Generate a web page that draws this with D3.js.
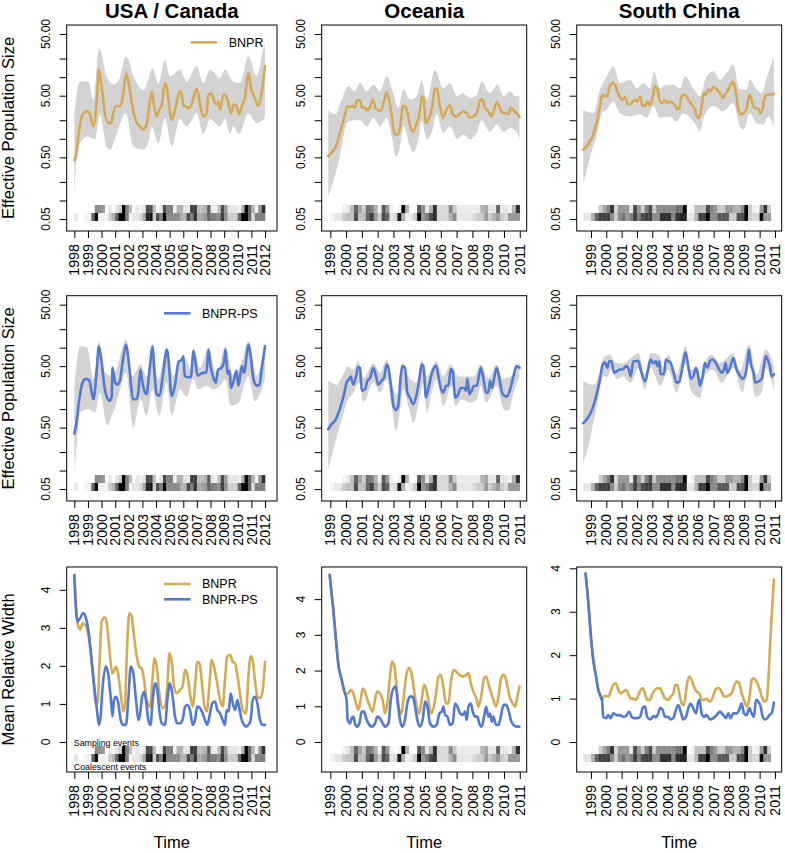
<!DOCTYPE html>
<html><head><meta charset="utf-8">
<script src="https://cdn.jsdelivr.net/npm/d3@7"></script>
<style>body{margin:0;background:#fff}</style>
</head><body>
<svg id="chart" width="785" height="853"></svg>
<script>
// ---------------- DATA ----------------
const titles = ["USA / Canada", "Oceania", "South China"];
const yearTicks = [
  [1998,1999,2000,2001,2002,2003,2004,2005,2006,2007,2008,2009,2010,2011,2012],
  [1999,2000,2001,2002,2003,2004,2005,2006,2007,2008,2009,2010,2011],
  [1999,2000,2001,2002,2003,2004,2005,2006,2007,2008,2009,2010,2011]
];
const logTicks = [50,20,10,5,2,1,0.5,0.2,0.1,0.05];
const logTickLabels = {50:"50.00",5:"5.00",0.5:"0.50",0.05:"0.05"};
const widthTicks = [0,1,2,3,4];

// USA / Canada — BNPR
const usaBnpr = [[1998.0,0.45],[1998.1,0.52],[1998.4,1.6],[1998.6,2.46],[1998.9,2.8],[1999.0,2.8],[1999.15,2.5],[1999.4,1.6],[1999.65,4.3],[1999.8,13.2],[2000.0,7],[2000.25,2.6],[2000.5,1.8],[2000.7,1.8],[2000.85,2.6],[2001.1,3.4],[2001.35,3.4],[2001.6,5.5],[2001.8,11.4],[2002.05,6.7],[2002.3,3.0],[2002.6,1.8],[2002.8,1.6],[2003.05,1.4],[2003.3,1.7],[2003.5,3.4],[2003.7,5.9],[2003.85,3.4],[2004.05,2.3],[2004.25,3.0],[2004.4,3.4],[2004.65,8.0],[2004.8,6.7],[2005.0,3.0],[2005.15,2.0],[2005.4,3.0],[2005.65,5.2],[2005.75,5.9],[2005.9,5.2],[2006.0,3.4],[2006.2,3.4],[2006.35,3.1],[2006.55,3.4],[2006.75,4.6],[2006.95,6.4],[2007.05,5.9],[2007.25,3.4],[2007.5,2.3],[2007.7,2.5],[2007.85,5.2],[2008.05,5.4],[2008.2,4.6],[2008.4,3.6],[2008.55,4.0],[2008.7,3.0],[2008.95,5.2],[2009.15,4.9],[2009.3,3.8],[2009.5,2.6],[2009.7,3.6],[2009.9,3.4],[2010.1,2.5],[2010.3,3.4],[2010.5,4.3],[2010.8,11.7],[2010.95,7.0],[2011.15,5.2],[2011.4,3.8],[2011.5,3.4],[2011.75,5.5],[2012.0,15]];
const usaBnprUpper = [[1998.0,2.6],[1998.42,8.5],[1999.03,8.5],[1999.4,4.3],[1999.81,29.6],[2000.37,10.3],[2000.86,7.6],[2001.23,8.5],[2001.79,21.7],[2002.45,9.1],[2003.07,6.2],[2003.43,9.1],[2003.73,14],[2004.17,8],[2004.66,19],[2005.02,10.3],[2005.76,13.2],[2006.25,8.5],[2006.98,15],[2007.47,8],[2007.96,13.2],[2008.7,9.7],[2009.06,13.2],[2009.67,8.5],[2010.16,8],[2010.78,21.7],[2011.39,10.3],[2011.93,31.7],[2012.0,35]];
const usaBnprLower = [[1998.0,0.103],[1998.05,0.2],[1998.42,0.85],[1999.03,1.1],[1999.52,0.97],[1999.88,2.5],[2000.37,0.75],[2000.62,0.67],[2001.1,1.2],[2001.79,2.6],[2002.33,0.75],[2003.07,0.67],[2003.48,0.97],[2003.68,1.6],[2004.17,0.85],[2004.66,2.2],[2005.15,0.75],[2005.76,2.1],[2006.25,1.6],[2006.98,2.6],[2007.47,1.2],[2007.96,2.1],[2008.7,1.6],[2009.06,2.1],[2009.43,1.2],[2009.67,1.6],[2010.09,1.2],[2010.78,2.6],[2011.39,1.8],[2011.93,2.1],[2012.0,2.5]];
// USA / Canada — BNPR-PS
const usaPs = [[1998.0,0.40],[1998.1,0.5],[1998.4,1.64],[1998.6,2.7],[1998.85,3.1],[1999.1,2.9],[1999.4,1.45],[1999.65,4.4],[1999.8,10.5],[2000.0,5.9],[2000.2,2.4],[2000.4,1.54],[2000.6,1.36],[2000.75,1.64],[2000.8,4.7],[2001.0,2.7],[2001.15,2.5],[2001.35,2.9],[2001.55,5.9],[2001.8,11.2],[2001.95,7.2],[2002.15,2.7],[2002.3,1.45],[2002.55,1.45],[2002.7,1.9],[2002.85,4.4],[2003.0,2.7],[2003.2,1.85],[2003.3,1.75],[2003.5,3.9],[2003.75,10.5],[2003.85,5.0],[2004.05,1.75],[2004.25,1.64],[2004.5,3.5],[2004.8,9.3],[2004.9,6.8],[2005.15,1.64],[2005.4,2.5],[2005.65,5.9],[2005.9,6.4],[2006.0,7.2],[2006.1,3.5],[2006.35,3.3],[2006.55,3.3],[2006.75,8.7],[2006.85,6.8],[2007.05,3.5],[2007.25,3.7],[2007.5,3.9],[2007.7,3.9],[2007.85,9.3],[2008.0,5.0],[2008.2,3.3],[2008.4,2.7],[2008.55,4.4],[2008.8,4.7],[2009.0,5.9],[2009.1,9.3],[2009.25,3.7],[2009.4,4.2],[2009.5,2.2],[2009.7,2.9],[2009.9,4.2],[2010.05,2.4],[2010.3,5.0],[2010.45,3.9],[2010.8,11.2],[2010.95,7.2],[2011.15,3.1],[2011.4,2.4],[2011.6,2.5],[2011.75,4.4],[2012.0,10.5]];
const usaPsUpper = [[1998.0,2.4],[1998.42,10.5],[1998.95,10],[1999.4,3.1],[1999.81,12.7],[2000.13,4.4],[2000.62,3.5],[2000.99,3.9],[2001.79,13.5],[2002.28,3.5],[2002.87,5.3],[2003.31,3.3],[2003.73,11.2],[2004.17,3.1],[2004.78,10],[2005.27,3.5],[2006.0,7.7],[2006.55,4.4],[2006.74,10],[2007.23,4.7],[2007.84,10],[2008.45,3.7],[2009.09,10.5],[2009.67,3.5],[2010.29,5.9],[2010.78,12.7],[2011.39,3.5],[2012.0,12.7]];
const usaPsLower = [[1998.0,0.095],[1998.17,0.257],[1998.42,0.88],[1999.03,1.0],[1999.52,0.88],[1999.88,1.85],[2000.42,0.54],[2000.74,0.78],[2001.1,1.26],[2001.79,3.9],[2002.33,0.5],[2002.87,1.45],[2003.31,0.78],[2003.73,2.1],[2004.24,0.78],[2004.78,2.7],[2005.15,0.78],[2005.76,2.1],[2006.25,1.6],[2006.74,3.1],[2007.1,2.1],[2007.72,2.4],[2008.21,2.1],[2008.7,2.4],[2009.09,3.1],[2009.48,1.14],[2010.04,1.26],[2010.78,3.5],[2011.26,1.35],[2012.0,3.1]];

// Oceania — BNPR
const ocBnpr = [[1998.87,0.52],[1999.08,0.6],[1999.3,0.7],[1999.5,0.97],[1999.7,1.5],[1999.93,2.5],[2000.08,3.4],[2000.25,3.3],[2000.4,3.4],[2000.55,3.2],[2000.7,4.2],[2000.9,4.2],[2001.0,3.2],[2001.2,3.2],[2001.35,2.9],[2001.5,3.2],[2001.7,4.3],[2001.85,3.2],[2002.05,2.9],[2002.2,2.8],[2002.4,4.1],[2002.57,5.6],[2002.72,4.3],[2002.9,2.3],[2003.05,1.25],[2003.25,1.16],[2003.4,1.4],[2003.6,3.4],[2003.73,3.4],[2003.9,2.6],[2004.05,1.6],[2004.25,1.3],[2004.47,1.8],[2004.65,2.5],[2004.8,4.9],[2004.9,4.6],[2005.06,1.8],[2005.2,2.0],[2005.42,2.9],[2005.63,6.6],[2005.74,6.4],[2005.95,3.4],[2006.16,2.2],[2006.37,3.0],[2006.58,3.5],[2006.75,2.5],[2006.97,2.3],[2007.18,2.5],[2007.43,2.8],[2007.64,2.6],[2007.85,2.2],[2008.06,2.3],[2008.28,2.6],[2008.5,4.3],[2008.6,4.4],[2008.8,3.2],[2009.0,2.8],[2009.2,2.3],[2009.37,2.9],[2009.54,3.9],[2009.7,3.4],[2009.86,2.7],[2010.07,2.6],[2010.28,2.5],[2010.43,3.2],[2010.6,2.9],[2010.8,2.6],[2010.98,2.25]];
const ocBnprUpper = [[1998.87,2.9],[1999.3,2.5],[1999.72,4.3],[2000.14,7.1],[2000.56,5.9],[2000.88,8.0],[2001.3,5.9],[2001.73,7.5],[2002.15,5.9],[2002.57,10.3],[2002.99,5.5],[2003.31,3.2],[2003.63,6.3],[2004.05,4.3],[2004.47,4.9],[2004.79,9.1],[2005.11,4.3],[2005.63,13.2],[2006.16,6.6],[2006.59,8],[2007.01,4.9],[2007.43,5.5],[2007.85,4.6],[2008.28,5.2],[2008.59,8.5],[2009.12,5.5],[2009.59,7.5],[2009.97,4.9],[2010.39,5.9],[2010.71,4.9],[2010.98,4.9]];
const ocBnprLower = [[1998.87,0.117],[1999.08,0.17],[1999.4,0.315],[1999.72,0.75],[2000.04,1.8],[2000.46,2.0],[2000.88,2.0],[2001.3,1.6],[2001.73,2.2],[2002.15,1.6],[2002.57,2.2],[2002.89,1.1],[2003.16,0.52],[2003.42,0.75],[2003.63,1.6],[2004.05,0.75],[2004.26,0.6],[2004.58,0.97],[2004.79,2.0],[2005.11,0.97],[2005.42,1.25],[2005.74,2.5],[2006.16,1.25],[2006.59,1.6],[2007.01,1.0],[2007.43,1.16],[2007.85,0.97],[2008.28,1.25],[2008.59,2.0],[2009.12,1.3],[2009.54,1.7],[2009.97,1.3],[2010.39,1.5],[2010.81,1.3],[2010.98,0.97]];
// Oceania — BNPR-PS
const ocPs = [[1998.87,0.47],[1999.08,0.57],[1999.3,0.65],[1999.6,1.0],[1999.87,1.75],[2000.03,2.7],[2000.2,3.1],[2000.29,3.4],[2000.46,2.5],[2000.63,3.4],[2000.77,4.9],[2000.88,4.7],[2000.99,2.0],[2001.2,2.1],[2001.35,2.9],[2001.51,3.2],[2001.73,4.7],[2001.9,3.4],[2002.04,2.5],[2002.25,2.9],[2002.4,3.2],[2002.57,5.3],[2002.68,4.7],[2002.82,2.7],[2003.0,1.13],[2003.16,0.97],[2003.3,1.13],[2003.46,3.4],[2003.56,5.0],[2003.73,4.7],[2003.88,1.85],[2004.05,1.53],[2004.26,1.2],[2004.47,1.74],[2004.64,3.1],[2004.79,5.3],[2004.9,5.0],[2005.06,1.53],[2005.2,2.1],[2005.42,3.7],[2005.7,5.1],[2005.85,3.4],[2006.0,2.2],[2006.16,1.85],[2006.33,2.4],[2006.48,2.4],[2006.63,4.5],[2006.75,4.1],[2006.92,1.53],[2007.1,1.74],[2007.26,2.2],[2007.47,2.2],[2007.6,2.0],[2007.68,3.1],[2007.81,1.74],[2007.96,2.0],[2008.1,2.4],[2008.28,2.4],[2008.38,3.1],[2008.53,4.7],[2008.7,3.1],[2008.87,1.85],[2009.0,1.85],[2009.12,2.9],[2009.23,2.2],[2009.37,3.1],[2009.54,4.7],[2009.7,3.2],[2009.92,1.74],[2010.18,1.6],[2010.39,2.1],[2010.6,3.4],[2010.8,5.0],[2010.98,4.7]];
const ocPsUpper = [[1998.87,2.9],[1999.4,2.5],[1999.82,3.7],[2000.08,5.0],[2000.46,4.4],[2000.77,6.0],[2001.09,3.2],[2001.73,5.6],[2002.15,3.9],[2002.57,6.4],[2002.99,2.1],[2003.31,1.74],[2003.56,5.6],[2004.05,3.1],[2004.47,2.7],[2004.79,6.4],[2005.11,3.4],[2005.7,6.0],[2006.16,3.4],[2006.63,5.3],[2007.11,3.4],[2007.68,3.4],[2008.11,3.4],[2008.53,5.3],[2009.01,3.2],[2009.54,5.3],[2009.92,3.1],[2010.39,3.4],[2010.98,6.0]];
const ocPsLower = [[1998.87,0.105],[1999.19,0.22],[1999.61,0.53],[2000.04,1.28],[2000.46,1.85],[2000.84,2.7],[2001.09,1.28],[2001.73,2.7],[2002.15,1.85],[2002.57,3.1],[2002.89,1.13],[2003.16,0.44],[2003.46,1.13],[2003.63,2.1],[2004.05,0.87],[2004.26,0.6],[2004.64,1.44],[2004.9,2.7],[2005.11,0.87],[2005.42,1.85],[2005.74,3.1],[2006.16,1.13],[2006.69,2.4],[2006.92,1.13],[2007.32,1.44],[2007.85,1.28],[2008.28,1.44],[2008.53,2.4],[2008.87,1.28],[2009.54,2.4],[2009.97,1.0],[2010.28,0.93],[2010.6,1.85],[2010.98,3.4]];

// South China — BNPR
const scBnpr = [[1998.5,0.67],[1998.72,0.76],[1998.93,0.91],[1999.15,1.17],[1999.37,1.81],[1999.59,3.4],[1999.76,5.2],[1999.91,4.9],[2000.07,4.9],[2000.2,6.9],[2000.41,8.0],[2000.57,7.5],[2000.72,5.9],[2000.89,4.7],[2001.07,4.3],[2001.22,4.8],[2001.37,3.8],[2001.54,3.6],[2001.72,4.0],[2001.87,4.3],[2002.02,4.0],[2002.2,4.9],[2002.37,3.4],[2002.52,3.4],[2002.67,4.0],[2002.85,3.5],[2003.02,4.6],[2003.17,7.1],[2003.33,6.4],[2003.5,4.0],[2003.67,3.8],[2003.83,4.3],[2003.98,3.8],[2004.15,4.0],[2004.33,3.8],[2004.48,3.5],[2004.63,3.0],[2004.76,3.1],[2004.91,4.9],[2005.13,5.2],[2005.35,4.3],[2005.57,3.6],[2005.78,3.0],[2005.96,2.2],[2006.07,2.2],[2006.22,3.4],[2006.37,5.5],[2006.5,5.2],[2006.65,6.3],[2006.8,5.9],[2006.98,6.9],[2007.2,6.3],[2007.41,5.6],[2007.59,4.6],[2007.74,5.2],[2007.96,6.3],[2008.17,8.0],[2008.28,8.5],[2008.46,5.5],[2008.61,3.0],[2008.76,2.5],[2008.93,2.6],[2009.15,3.1],[2009.33,5.2],[2009.48,4.3],[2009.59,3.4],[2009.76,3.1],[2009.91,3.1],[2010.07,2.6],[2010.24,3.4],[2010.35,4.9],[2010.57,5.2],[2010.78,5.2],[2010.93,5.4]];
const scBnprUpper = [[1998.5,2.95],[1999.15,2.6],[1999.59,6.3],[1999.98,9.7],[2000.46,14.9],[2000.89,8.0],[2001.54,9.1],[2001.98,6.6],[2002.41,8.0],[2002.85,6.6],[2003.11,12.4],[2003.5,6.6],[2003.93,7.5],[2004.37,7.5],[2004.8,6.6],[2005.13,10.3],[2005.67,6.6],[2006.11,4.9],[2006.54,10.3],[2006.98,12.4],[2007.41,9.1],[2007.85,11.7],[2008.28,15.9],[2008.72,6.3],[2009.15,6.3],[2009.37,9.1],[2009.8,6.3],[2010.13,5.5],[2010.46,9.7],[2010.93,21.7]];
const scBnprLower = [[1998.5,0.19],[1998.72,0.3],[1999.04,0.62],[1999.37,1.1],[1999.7,2.6],[2000.02,2.95],[2000.46,4.0],[2000.89,2.6],[2001.54,2.3],[2002.2,2.5],[2002.63,2.2],[2003.07,3.4],[2003.5,2.2],[2004.15,2.3],[2004.59,1.9],[2005.02,2.6],[2005.46,2.2],[2005.89,1.6],[2006.07,1.3],[2006.43,2.5],[2006.98,3.4],[2007.63,2.8],[2008.28,3.8],[2008.72,1.6],[2008.93,1.4],[2009.37,2.6],[2009.8,1.8],[2010.24,1.7],[2010.57,2.3],[2010.93,1.6]];
// South China — BNPR-PS
const scPs = [[1998.5,0.59],[1998.72,0.68],[1998.93,0.82],[1999.15,1.12],[1999.37,1.74],[1999.59,3.1],[1999.76,5.3],[1999.91,5.8],[2000.07,4.7],[2000.2,6.0],[2000.35,6.0],[2000.5,3.9],[2000.67,4.1],[2000.89,4.4],[2001.07,4.4],[2001.28,5.0],[2001.43,4.7],[2001.59,3.4],[2001.76,6.0],[2001.93,6.0],[2002.09,6.1],[2002.24,4.4],[2002.52,2.8],[2002.7,4.1],[2002.89,6.4],[2003.07,5.6],[2003.24,6.0],[2003.33,5.0],[2003.46,6.0],[2003.54,3.7],[2003.76,3.7],[2003.89,6.4],[2004.04,6.0],[2004.2,5.6],[2004.37,4.1],[2004.59,2.7],[2004.76,2.8],[2004.98,5.0],[2005.17,8.4],[2005.35,5.0],[2005.52,3.1],[2005.67,3.4],[2005.85,4.7],[2006.0,3.4],[2006.11,2.4],[2006.28,3.4],[2006.43,5.6],[2006.59,4.7],[2006.76,6.0],[2006.93,6.4],[2007.15,5.6],[2007.37,4.4],[2007.52,3.9],[2007.67,4.4],[2007.78,5.6],[2007.89,3.9],[2008.07,4.7],[2008.28,6.8],[2008.46,4.7],[2008.61,3.9],[2008.76,3.4],[2008.89,3.1],[2009.04,3.4],[2009.2,5.6],[2009.3,9.3],[2009.43,5.3],[2009.59,4.1],[2009.72,2.7],[2009.91,2.8],[2010.13,3.1],[2010.28,5.0],[2010.41,7.3],[2010.57,6.0],[2010.67,5.0],[2010.78,3.4],[2010.93,3.7]];
const scPsUpper = [[1998.5,2.85],[1999.15,2.5],[1999.59,4.1],[1999.8,6.8],[2000.2,7.7],[2000.67,5.6],[2001.11,5.6],[2001.76,7.3],[2002.09,8.2],[2002.52,3.7],[2002.89,8.2],[2003.5,7.3],[2003.72,4.7],[2004.04,7.7],[2004.59,3.7],[2005.17,10.5],[2005.46,4.4],[2006.0,4.7],[2006.11,3.2],[2006.54,6.4],[2006.87,7.7],[2007.41,5.6],[2007.85,6.8],[2008.28,8.2],[2008.72,4.1],[2009.3,11.2],[2009.8,3.7],[2010.41,9.3],[2010.93,5.0]];
const scPsLower = [[1998.5,0.135],[1998.83,0.25],[1999.15,0.6],[1999.48,1.44],[1999.76,3.4],[2000.07,3.4],[2000.35,4.4],[2000.67,3.1],[2001.11,3.4],[2001.59,2.7],[2002.09,4.7],[2002.52,2.1],[2002.89,4.7],[2003.54,2.4],[2004.04,4.4],[2004.59,1.85],[2005.17,5.6],[2005.52,2.0],[2006.11,1.53],[2006.43,3.4],[2006.93,4.4],[2007.52,2.7],[2008.28,4.7],[2008.89,1.85],[2009.3,6.0],[2009.72,1.6],[2010.13,1.85],[2010.41,4.7],[2010.93,2.0]];

// Mean relative width
const usaWidthBnpr = [[1998.0,4.39],[1998.22,3.17],[1998.42,2.95],[1998.61,3.12],[1998.78,3.08],[1998.95,2.95],[1999.15,2.5],[1999.39,1.63],[1999.59,1.02],[1999.71,1.02],[1999.84,1.98],[2000.01,3.17],[2000.25,3.28],[2000.42,3.04],[2000.62,2.25],[2000.79,1.8],[2000.94,1.9],[2001.06,1.98],[2001.23,1.76],[2001.4,1.28],[2001.6,0.8],[2001.72,0.93],[2001.84,2.16],[2002.04,3.39],[2002.21,3.3],[2002.33,2.95],[2002.58,2.25],[2002.77,1.98],[2002.94,1.94],[2003.12,1.63],[2003.31,1.1],[2003.56,0.93],[2003.75,1.72],[2003.87,2.2],[2004.05,1.98],[2004.24,1.28],[2004.49,0.89],[2004.66,0.93],[2004.83,1.46],[2004.98,2.33],[2005.15,2.11],[2005.32,1.46],[2005.51,1.28],[2005.76,1.37],[2005.95,1.46],[2006.13,1.9],[2006.3,1.76],[2006.49,1.28],[2006.69,0.93],[2006.86,1.46],[2007.03,2.11],[2007.18,2.07],[2007.35,1.63],[2007.52,1.02],[2007.72,0.8],[2007.91,1.46],[2008.08,2.16],[2008.25,1.98],[2008.45,1.63],[2008.7,1.1],[2008.89,0.93],[2009.06,1.63],[2009.23,2.25],[2009.43,2.29],[2009.63,2.11],[2009.8,2.07],[2009.97,1.76],[2010.16,1.28],[2010.36,0.84],[2010.6,0.75],[2010.78,1.72],[2010.95,2.25],[2011.09,2.16],[2011.26,1.63],[2011.44,1.19],[2011.63,1.15],[2011.8,1.28],[2012.0,2.11]];
const usaWidthPs = [[1998.0,4.39],[1998.22,3.17],[1998.42,3.25],[1998.66,3.39],[1998.86,3.25],[1999.03,2.95],[1999.27,2.16],[1999.52,1.28],[1999.69,0.75],[1999.81,0.45],[1999.93,0.67],[2000.08,1.46],[2000.32,1.98],[2000.5,1.76],[2000.69,1.1],[2000.81,0.67],[2000.91,1.1],[2001.06,1.19],[2001.23,1.02],[2001.4,0.58],[2001.6,0.45],[2001.79,0.45],[2001.96,1.1],[2002.14,1.98],[2002.33,1.8],[2002.53,1.1],[2002.7,0.58],[2002.82,0.71],[2002.94,1.1],[2003.12,1.32],[2003.26,1.1],[2003.43,0.58],[2003.6,0.45],[2003.75,1.1],[2003.95,1.54],[2004.09,1.37],[2004.24,0.84],[2004.41,0.49],[2004.66,0.45],[2004.83,1.1],[2005.02,1.54],[2005.22,1.19],[2005.39,0.67],[2005.56,0.49],[2005.76,0.49],[2005.95,0.58],[2006.13,0.93],[2006.3,0.97],[2006.49,0.84],[2006.69,0.45],[2006.86,0.58],[2007.03,0.93],[2007.23,0.89],[2007.42,0.75],[2007.59,0.58],[2007.77,0.45],[2007.96,0.75],[2008.13,1.02],[2008.33,1.06],[2008.5,0.84],[2008.7,0.75],[2008.89,0.58],[2009.06,0.45],[2009.18,0.84],[2009.33,0.8],[2009.48,1.28],[2009.63,1.02],[2009.8,0.84],[2009.97,1.1],[2010.11,0.89],[2010.29,0.58],[2010.46,0.45],[2010.6,0.4],[2010.78,0.45],[2010.95,0.58],[2011.09,1.1],[2011.26,1.19],[2011.44,1.02],[2011.63,0.58],[2011.83,0.45],[2012.0,0.45]];
const ocWidthBnpr = [[1998.96,4.68],[1999.19,3.7],[1999.36,2.86],[1999.5,2.2],[1999.72,1.74],[1999.93,1.36],[2000.14,1.36],[2000.29,1.46],[2000.46,1.36],[2000.63,1.08],[2000.77,0.9],[2000.92,1.18],[2001.05,1.5],[2001.2,1.41],[2001.35,1.18],[2001.51,0.99],[2001.68,0.85],[2001.83,1.18],[2001.98,1.41],[2002.15,1.36],[2002.32,1.18],[2002.46,0.8],[2002.61,1.04],[2002.78,1.83],[2002.91,2.25],[2003.06,2.11],[2003.2,1.55],[2003.37,0.9],[2003.52,0.8],[2003.63,1.18],[2003.84,1.93],[2004.01,2.07],[2004.16,1.88],[2004.3,1.46],[2004.47,0.99],[2004.64,0.8],[2004.79,1.18],[2004.94,1.6],[2005.06,1.5],[2005.21,1.18],[2005.36,0.8],[2005.53,0.94],[2005.7,1.36],[2005.85,1.83],[2006.0,1.88],[2006.16,1.55],[2006.33,1.08],[2006.48,1.08],[2006.63,1.64],[2006.8,2.02],[2006.97,1.97],[2007.18,1.88],[2007.39,1.83],[2007.6,1.88],[2007.75,1.93],[2007.9,1.64],[2008.06,1.41],[2008.28,1.18],[2008.38,0.99],[2008.59,1.36],[2008.74,1.79],[2008.87,1.83],[2009.01,1.64],[2009.16,1.41],[2009.33,1.18],[2009.5,0.99],[2009.65,1.27],[2009.8,1.74],[2009.92,1.88],[2010.07,1.83],[2010.22,1.55],[2010.39,1.22],[2010.56,1.08],[2010.7,0.99],[2010.81,1.18],[2010.98,1.55]];
const ocWidthPs = [[1998.96,4.68],[1999.19,3.7],[1999.36,2.86],[1999.5,2.2],[1999.72,1.74],[1999.93,1.36],[2000.03,1.18],[2000.1,0.62],[2000.25,0.52],[2000.35,0.66],[2000.46,0.71],[2000.56,0.52],[2000.71,0.43],[2000.84,0.52],[2000.99,0.85],[2001.13,0.85],[2001.3,0.62],[2001.47,0.48],[2001.62,0.43],[2001.83,0.52],[2001.98,0.71],[2002.15,0.66],[2002.32,0.52],[2002.46,0.43],[2002.68,0.52],[2002.83,1.18],[2003.0,1.5],[2003.14,1.55],[2003.3,0.99],[2003.46,0.52],[2003.58,0.43],[2003.73,0.62],[2003.88,1.08],[2004.05,1.27],[2004.22,1.27],[2004.37,0.99],[2004.51,0.62],[2004.68,0.43],[2004.85,0.62],[2005.0,1.13],[2005.15,0.99],[2005.32,0.52],[2005.53,0.43],[2005.74,0.48],[2005.91,0.8],[2006.06,0.85],[2006.16,0.99],[2006.27,0.76],[2006.42,0.71],[2006.58,0.48],[2006.75,0.52],[2006.9,1.08],[2007.05,0.99],[2007.22,0.8],[2007.39,0.76],[2007.54,0.85],[2007.64,0.62],[2007.75,0.99],[2007.9,1.08],[2008.02,0.85],[2008.17,0.71],[2008.32,0.71],[2008.44,0.52],[2008.59,0.43],[2008.74,0.71],[2008.87,0.99],[2009.01,0.71],[2009.12,0.8],[2009.23,0.57],[2009.33,0.71],[2009.5,0.48],[2009.65,0.48],[2009.8,0.71],[2009.97,1.04],[2010.13,1.04],[2010.28,0.9],[2010.43,0.62],[2010.6,0.48],[2010.81,0.43],[2010.98,0.43]];
const scWidthBnpr = [[1998.65,3.88],[1998.83,3.2],[1998.98,2.5],[1999.15,1.89],[1999.33,1.51],[1999.48,1.2],[1999.63,1.05],[1999.72,0.97],[1999.8,1.05],[1999.98,1.06],[2000.13,1.05],[2000.28,1.16],[2000.46,1.32],[2000.63,1.35],[2000.78,1.2],[2000.93,1.12],[2001.11,1.16],[2001.28,1.2],[2001.43,1.12],[2001.59,1.0],[2001.76,1.0],[2001.93,0.97],[2002.09,1.08],[2002.24,1.2],[2002.37,1.24],[2002.52,1.12],[2002.67,0.97],[2002.85,0.97],[2003.02,1.12],[2003.17,1.2],[2003.33,1.24],[2003.5,1.24],[2003.67,1.12],[2003.83,1.0],[2004.04,0.97],[2004.2,1.05],[2004.37,1.12],[2004.5,1.32],[2004.63,1.32],[2004.76,1.12],[2004.91,0.89],[2005.02,0.85],[2005.13,0.97],[2005.24,1.28],[2005.41,1.51],[2005.57,1.43],[2005.72,1.28],[2005.89,1.16],[2006.07,1.12],[2006.22,0.97],[2006.37,0.97],[2006.54,1.0],[2006.72,0.93],[2006.87,0.97],[2007.02,1.12],[2007.2,1.24],[2007.37,1.24],[2007.52,1.16],[2007.67,1.05],[2007.85,1.05],[2008.02,1.08],[2008.17,1.12],[2008.33,1.28],[2008.5,1.39],[2008.67,1.35],[2008.83,1.12],[2008.98,0.97],[2009.15,0.82],[2009.26,0.89],[2009.37,1.12],[2009.48,1.43],[2009.63,1.47],[2009.8,1.39],[2009.98,1.24],[2010.13,1.05],[2010.28,0.93],[2010.46,0.97],[2010.57,1.43],[2010.72,2.5],[2010.85,3.28],[2010.93,3.74]];
const scWidthPs = [[1998.65,3.88],[1998.83,3.2],[1998.98,2.5],[1999.15,1.89],[1999.33,1.51],[1999.48,1.2],[1999.63,1.05],[1999.72,0.97],[1999.8,0.58],[1999.98,0.55],[2000.13,0.62],[2000.28,0.55],[2000.46,0.66],[2000.67,0.62],[2000.89,0.62],[2001.11,0.58],[2001.28,0.6],[2001.5,0.7],[2001.65,0.58],[2001.8,0.55],[2002.02,0.55],[2002.2,0.58],[2002.37,0.78],[2002.52,0.82],[2002.67,0.58],[2002.89,0.52],[2003.07,0.6],[2003.24,0.57],[2003.39,0.66],[2003.5,0.78],[2003.67,0.74],[2003.83,0.58],[2004.04,0.58],[2004.2,0.52],[2004.37,0.55],[2004.54,0.74],[2004.7,0.85],[2004.85,0.7],[2005.02,0.52],[2005.2,0.58],[2005.35,0.78],[2005.5,0.88],[2005.67,0.78],[2005.85,0.66],[2006.0,0.93],[2006.07,0.97],[2006.22,0.66],[2006.37,0.58],[2006.54,0.62],[2006.76,0.52],[2006.98,0.55],[2007.2,0.62],[2007.41,0.7],[2007.63,0.62],[2007.8,0.55],[2007.96,0.66],[2008.11,0.55],[2008.28,0.66],[2008.5,0.66],[2008.67,0.74],[2008.83,0.89],[2008.98,0.66],[2009.15,0.62],[2009.33,0.78],[2009.48,0.66],[2009.63,0.58],[2009.76,0.97],[2009.91,0.93],[2010.07,0.82],[2010.2,0.58],[2010.35,0.52],[2010.5,0.55],[2010.63,0.62],[2010.78,0.66],[2010.93,0.91]];

// Event heatmaps (darkness 0..1 per quarter-year cell)
const heatStep = 0.25;
const heatStart = [1998.0, 1999.0, 1998.5];
const usaSampling = [0,0,0,0,0,0,0.45,0.45,0.4,0,0.1,0,0.1,0.2,1.0,0.5,0.25,0,0.1,0.05,0.1,0.7,0.7,0.25,0,0.1,0.7,0.5,0.5,0.05,0.3,0.3,0.1,0.1,0.75,0.75,0.25,0.25,0.3,0.65,0.1,0.05,0.25,0.7,0.4,0.1,0.1,0.1,0.05,0.3,1.0,0.6,0.3,0.05,0.4,0.8];
const usaCoalescent = [0.1,0,0,0.05,0.05,0.6,0.95,0.05,0.05,0.05,0.2,0.3,0.6,1.0,1.0,0.5,0.05,0.1,0.1,0.15,0.35,0.85,0.9,0.2,0.7,0.5,1.0,0.45,0.45,0.45,0.45,0.3,0.3,0.7,0.5,0.8,0.35,0.35,0.4,0.6,0.5,0.5,0.45,0.75,0.45,0.2,0.2,0.2,0.6,1.0,1.0,0.6,0.15,0.5,0.5,0.5];
const ocSampling = [0,0,0,0.05,0.1,0.25,0.6,0.35,0.2,0.55,0.5,0.3,0.05,0.65,0.4,0.05,0,0.05,1.0,0.3,0,0,0.65,0.45,0.1,0.3,0.8,0.15,0.15,0.15,0.45,0.2,0.08,0.08,0.08,0.08,0.08,0.08,0.3,0.35,0.1,0.1,0.6,0.1,0.1,0.05,0.3,0.8];
const ocCoalescent = [0.05,0.1,0.1,0.2,0.25,0.25,0.7,0.25,0.25,0.6,0.75,0.4,0.2,0.7,0.6,0.1,0.15,0.9,0.3,0.05,0.1,0.2,1.0,0.4,0.5,0.7,0.8,0.15,0.15,0.15,0.3,0.45,0.1,0.1,0.1,0.1,0.15,0.2,0.2,0.4,0.2,0.3,0.4,0.2,0.15,0.4,0.4,0.4];
const scSampling = [0,0,0,0,0.2,0.35,0.5,0.8,0.15,0.4,0.4,0.4,0.1,0.7,0.4,0.2,0.5,0.7,0.2,0.45,0.45,0.45,0.45,0.45,0.55,0.55,1.0,0,0.05,0.25,0.25,0.25,0.7,0.5,0.4,0.2,0.2,0.4,0.4,0.3,0.3,0.45,1.0,0.2,0.05,0.05,0.4,0.8,0.2,0];
const scCoalescent = [0.1,0.1,0.3,0.6,0.75,0.75,0.75,0.45,0.2,0.45,0.55,0.4,0.5,0.75,0.5,0.7,0.75,0.75,0.45,0.45,0.8,0.8,0.8,0.45,0.8,0.85,0.85,0.1,0.1,0.3,0.75,0.75,1.0,0.45,0.45,0.65,0.65,0.65,0.2,0.2,0.7,0.7,1.0,0.2,0.15,0.15,0.95,0.4,0.4,0];

// ---------------- LAYOUT ----------------
const FONT = "'Liberation Sans', Arial, Helvetica, sans-serif";
const GOLD = "#D5AA55", BLUE = "#5479D3", BAND = "#D3D3D3";
const colBox = [[66.7,277],[321.7,526.7],[576.7,781.7]];
const rowBox = [[25,231],[295.7,501],[567,772]];
const xDomains = [[1997.44,2012.88],[1998.455,2011.44],[1998.07,2011.44]];
const logDomain = [0.032,70];
const widthDomains = [[-0.79,4.6],[-0.84,4.9],[-0.69,4.03]];
const heats = [[usaSampling,usaCoalescent],[ocSampling,ocCoalescent],[scSampling,scCoalescent]];

const svg = d3.select("#chart");
svg.append("rect").attr("width",785).attr("height",853).attr("fill","#fff");

function drawPanel(ci, ri, opt) {
  const [x0,x1] = colBox[ci], [y0,y1] = rowBox[ri];
  const x = d3.scaleLinear().domain(xDomains[ci]).range([x0,x1]);
  const y = (ri < 2 ? d3.scaleLog().domain(logDomain) : d3.scaleLinear().domain(widthDomains[ci])).range([y1,y0]);
  const g = svg.append("g");
  const clipId = `clip${ci}${ri}`;
  g.append("clipPath").attr("id",clipId).append("rect").attr("x",x0).attr("y",y0).attr("width",x1-x0).attr("height",y1-y0);
  const inner = g.append("g").attr("clip-path",`url(#${clipId})`);

  const ln = d3.line().x(d=>x(d[0])).y(d=>y(d[1])).curve(d3.curveMonotoneX);
  if (opt.band) {
    const up = ln(opt.band[0]);
    const lo = ln(opt.band[1].slice().reverse());
    inner.append("path").attr("d", up + "L" + lo.slice(1) + "Z").attr("fill",BAND).attr("stroke","none");
  }
  // heatmap
  const [samp, coal] = heats[ci];
  const rowsY = [[y1-26,8],[y1-18,8]];
  [samp, coal].forEach((arr, k) => {
    inner.append("g").selectAll("rect").data(arr).join("rect")
      .attr("x",(d,i)=>x(heatStart[ci]+i*heatStep))
      .attr("width",(d,i)=>x(heatStart[ci]+(i+1)*heatStep)-x(heatStart[ci]+i*heatStep)+0.3)
      .attr("y",rowsY[k][0]).attr("height",rowsY[k][1])
      .attr("fill",d=>{const v=Math.round(255*(1-d));return `rgb(${v},${v},${v})`;});
  });
  opt.lines.forEach(([data,color]) => {
    inner.append("path").attr("d",ln(data)).attr("fill","none").attr("stroke",color)
      .attr("stroke-width",2.6).attr("stroke-linejoin","round").attr("stroke-linecap","round");
  });
  // box
  g.append("rect").attr("x",x0).attr("y",y0).attr("width",x1-x0).attr("height",y1-y0)
    .attr("fill","none").attr("stroke","#000").attr("stroke-width",1);
  // x axis
  const xa = g.append("g").attr("transform",`translate(0,${y1})`)
    .call(d3.axisBottom(x).tickValues(yearTicks[ci]).tickSize(7).tickFormat(""));
  xa.select(".domain").remove();
  xa.selectAll("line").attr("stroke","#000");
  g.append("g").selectAll("text").data(yearTicks[ci]).join("text")
    .attr("transform",d=>`translate(${x(d)},${y1+13}) rotate(-90)`)
    .attr("text-anchor","end").attr("dy","0.36em")
    .attr("font-family",FONT).attr("font-size",14.3).text(d=>d);
  // y axis
  const yt = ri < 2 ? logTicks : widthTicks;
  const ya = g.append("g").attr("transform",`translate(${x0},0)`)
    .call(d3.axisLeft(y).tickValues(yt).tickSize(7).tickFormat(""));
  ya.select(".domain").remove();
  ya.selectAll("line").attr("stroke","#000");
  const lab = ri < 2 ? logTicks.filter(t=>logTickLabels[t]) : widthTicks;
  g.append("g").selectAll("text").data(lab).join("text")
    .attr("transform",d=>`translate(${x0-16.5},${y(d)}) rotate(-90)`)
    .attr("text-anchor","middle")
    .attr("font-family",FONT).attr("font-size",12)
    .text(d=> ri < 2 ? logTickLabels[d] : d);
  // legend
  if (opt.legend) {
    opt.legend.forEach(([name,color,lx,ly]) => {
      g.append("line").attr("x1",lx).attr("x2",lx+26.5).attr("y1",ly).attr("y2",ly)
        .attr("stroke",color).attr("stroke-width",2.6);
      g.append("text").attr("x",lx+38).attr("y",ly+4.3).attr("font-family",FONT)
        .attr("font-size",12.5).text(name);
    });
  }
  if (ri === 2 && ci === 0) {
    g.append("text").attr("x",x(1998)-0.5).attr("y",y1-26.5).attr("font-family",FONT).attr("font-size",8.8).text("Sampling events");
    g.append("text").attr("x",x(1998)-0.5).attr("y",y1-2.5).attr("font-family",FONT).attr("font-size",8.8).text("Coalescent events");
  }
  if (ri === 0) {
    svg.append("text").attr("x",(x0+x1)/2).attr("y",18.3).attr("text-anchor","middle")
      .attr("font-family",FONT).attr("font-weight","bold").attr("font-size",20.5).text(titles[ci]);
  }
  if (ri === 2) {
    svg.append("text").attr("x",(x0+x1)/2).attr("y",848).attr("text-anchor","middle")
      .attr("font-family",FONT).attr("font-size",16.5).text("Time");
  }
  if (ci === 0) {
    const t = ri < 2 ? "Effective Population Size" : "Mean Relative Width";
    svg.append("text").attr("transform",`translate(14,${(y0+y1)/2}) rotate(-90)`)
      .attr("text-anchor","middle").attr("font-family",FONT).attr("font-size",16.5).text(t);
  }
}

drawPanel(0,0,{band:[usaBnprUpper,usaBnprLower],lines:[[usaBnpr,GOLD]],legend:[["BNPR",GOLD,190.7,42.3]]});
drawPanel(1,0,{band:[ocBnprUpper,ocBnprLower],lines:[[ocBnpr,GOLD]]});
drawPanel(2,0,{band:[scBnprUpper,scBnprLower],lines:[[scBnpr,GOLD]]});
drawPanel(0,1,{band:[usaPsUpper,usaPsLower],lines:[[usaPs,BLUE]],legend:[["BNPR-PS",BLUE,164,313.3]]});
drawPanel(1,1,{band:[ocPsUpper,ocPsLower],lines:[[ocPs,BLUE]]});
drawPanel(2,1,{band:[scPsUpper,scPsLower],lines:[[scPs,BLUE]]});
drawPanel(0,2,{lines:[[usaWidthBnpr,GOLD],[usaWidthPs,BLUE]],legend:[["BNPR",GOLD,164,584],["BNPR-PS",BLUE,164,599.3]]});
drawPanel(1,2,{lines:[[ocWidthBnpr,GOLD],[ocWidthPs,BLUE]]});
drawPanel(2,2,{lines:[[scWidthBnpr,GOLD],[scWidthPs,BLUE]]});
</script>
</body></html>
